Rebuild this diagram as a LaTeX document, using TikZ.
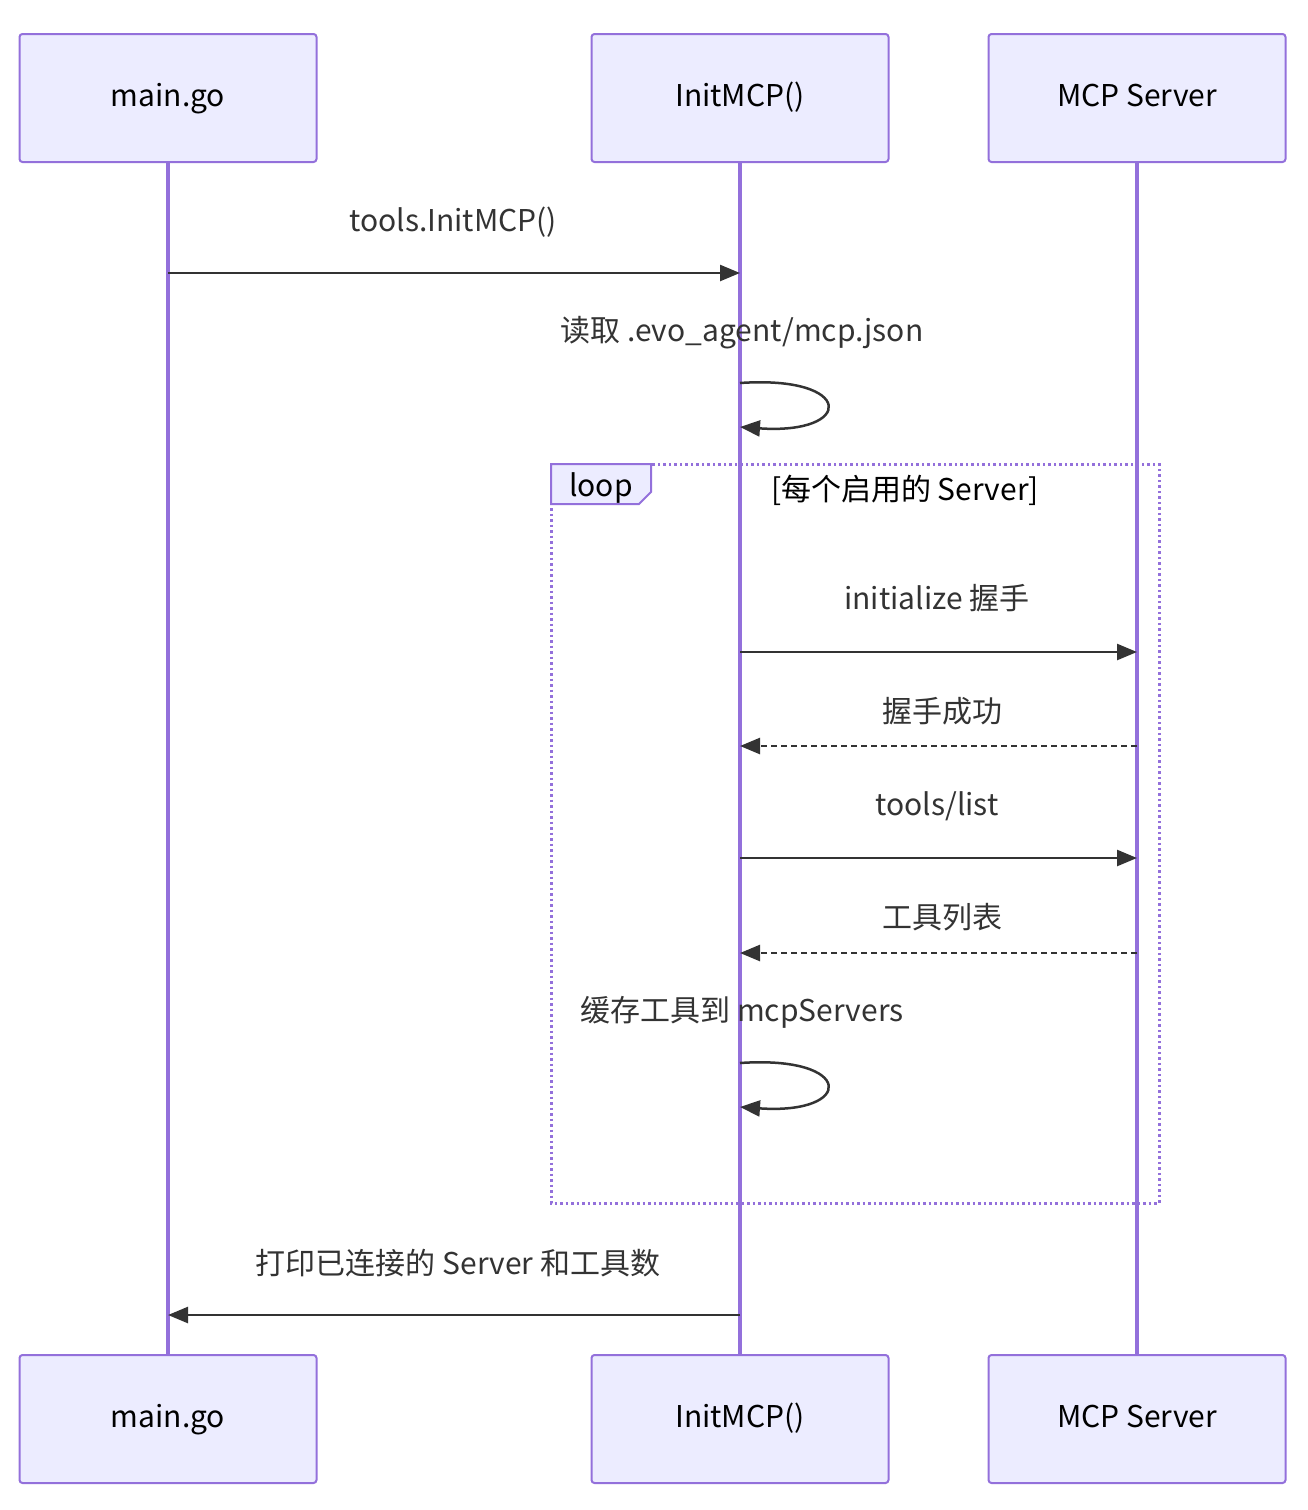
\documentclass[tikz,border=0pt]{standalone}
\usepackage{fontspec}
\setmainfont{Noto Sans CJK SC}
\usetikzlibrary{arrows.meta}
\definecolor{boxfill}{HTML}{ECECFF}
\definecolor{boxline}{HTML}{9370DB}
\definecolor{ink}{HTML}{333333}
\begin{document}
\begin{tikzpicture}[x=1pt,y=-1pt,
  actor/.style={draw=boxline,fill=boxfill,line width=2pt,rounded corners=3pt,minimum width=297pt,minimum height=128pt,font=\fontsize{30}{34}\selectfont,text=black,text height=22pt,text depth=6pt},
  life/.style={draw=boxline,line width=3.5pt},
  msg/.style={draw=ink,line width=2.5pt,-{Triangle[length=20pt,width=16pt]}},
  reply/.style={msg,dash pattern=on 6pt off 4pt},
  lbl/.style={font=\fontsize{30}{34}\selectfont,text=ink}]
\useasboundingbox (0,0) rectangle (1308,1510);
\node[actor] (a1) at (168,98) {main.go};
\node[actor] (b1) at (740,98) {InitMCP()};
\node[actor] (c1) at (1137,98) {MCP Server};
\node[actor] (a2) at (168,1419) {main.go};
\node[actor] (b2) at (740,1419) {InitMCP()};
\node[actor] (c2) at (1137,1419) {MCP Server};
\draw[life] (a1.south) -- (a2.north);
\draw[life] (b1.south) -- (b2.north);
\draw[life] (c1.south) -- (c2.north);
% loop frame
\draw[boxline,line width=3pt,dash pattern=on 2.5pt off 3pt] (551,464) rectangle (1159,1203);
\draw[boxline,fill=boxfill,line width=2pt] (551,464) -- (651,464) -- (651,492) -- (639,504) -- (551,504) -- cycle;
\node[lbl,text=black] at (601,488) {loop};
\node[lbl,text=black] at (905,490) {[每个启用的 Server]};
% messages
\coordinate (m1a) at (168,273); \coordinate (m1b) at (740,273);
\node[lbl] at (453,222) {tools.InitMCP()};
\draw[msg] (m1a) -- (m1b);
\node[lbl] at (742,333) {读取 .evo\_agent/mcp.json};
\coordinate (s1a) at (740,383); \coordinate (s1b) at (740,427);
\draw[msg] (s1a) .. controls (855,375) and (855,435) .. (s1b);
\coordinate (m2a) at (740,652); \coordinate (m2b) at (1137,652);
\node[lbl] at (937,598) {initialize 握手};
\draw[msg] (m2a) -- (m2b);
\coordinate (m3a) at (1137,746); \coordinate (m3b) at (740,746);
\node[lbl] at (942,711) {握手成功};
\draw[reply] (m3a) -- (m3b);
\coordinate (m4a) at (740,858); \coordinate (m4b) at (1137,858);
\node[lbl] at (937,806) {tools/list};
\draw[msg] (m4a) -- (m4b);
\coordinate (m5a) at (1137,953); \coordinate (m5b) at (740,953);
\node[lbl] at (942,917) {工具列表};
\draw[reply] (m5a) -- (m5b);
\node[lbl] at (742,1012) {缓存工具到 mcpServers};
\coordinate (s2a) at (740,1063); \coordinate (s2b) at (740,1107);
\draw[msg] (s2a) .. controls (855,1055) and (855,1115) .. (s2b);
\coordinate (m6a) at (740,1315); \coordinate (m6b) at (168,1315);
\node[lbl] at (458,1263) {打印已连接的 Server 和工具数};
\draw[msg] (m6a) -- (m6b);
\end{tikzpicture}
\end{document}
